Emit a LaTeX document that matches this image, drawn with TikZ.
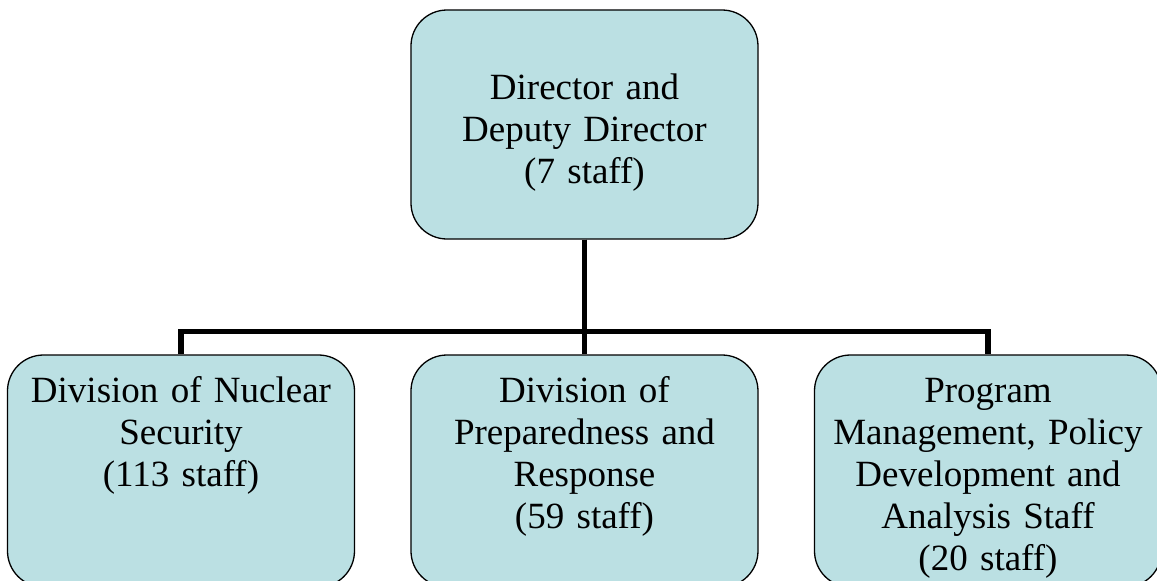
\documentclass[tikz,border=0pt]{standalone}
\usepackage{fontspec}
\setmainfont{Liberation Serif}
\definecolor{unitfill}{HTML}{BBE0E3}
\tikzset{
  unitbox/.style={draw, line width=1.3pt, fill=unitfill, rounded corners=36pt,
    inner sep=0pt, text width=330pt, align=center, minimum width=347pt,
    font=\fontsize{37}{42}\selectfont},
  headbox/.style={unitbox, text height=89pt, text depth=140pt},
  divbox/.style={unitbox, text height=47pt, text depth=185pt}
}

\begin{document}
\begin{tikzpicture}[level distance=346.5pt, sibling distance=403.5pt,
    edge from parent/.style={draw, line width=5.5pt},
    edge from parent path={(\tikzparentnode.south) -- ++(0,-92pt) -| (\tikzchildnode.north)}]
    \useasboundingbox (-584.5pt,-456.5pt) rectangle (572.5pt,124.5pt);
    \node[headbox] (director) {Director and\\ Deputy Director\\ (7 staff)}
        child {node[divbox] (nuclear) {Division of Nuclear\\ Security\\ (113 staff)}}
        child {node[divbox] (preparedness) {Division of\\ Preparedness and\\ Response\\ (59 staff)}}
        child {node[divbox] (program) {Program\\ Management, Policy\\ Development and\\ Analysis Staff\\ (20 staff)}};
\end{tikzpicture}
\end{document}
